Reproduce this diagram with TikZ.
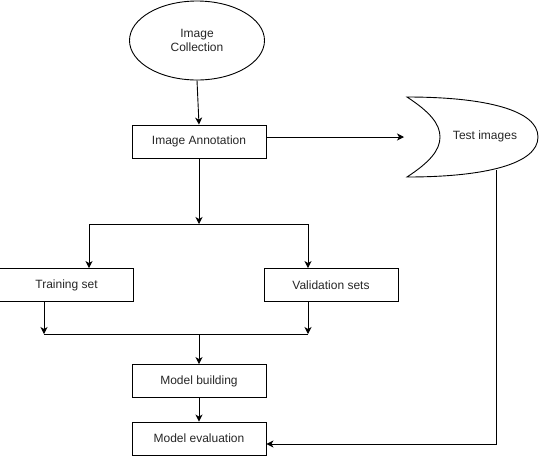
\documentclass[tikz,border=0pt]{standalone}
\usepackage{fontspec}
\setmainfont{Liberation Sans}
\usetikzlibrary{arrows.meta,shapes.geometric}
\begin{document}
\begin{tikzpicture}[x=1pt,y=-1pt,
  every node/.style={font=\fontsize{12}{14.5}\selectfont, text=black!85},
  proc/.style={draw, line width=0.9pt, minimum width=134pt, minimum height=33pt, inner sep=0pt},
  flow/.style={line width=0.9pt, -{Stealth[length=7pt,width=7pt,inset=2pt]}},
  plain/.style={line width=0.9pt}]
\useasboundingbox (0,0) rectangle (540,456);

% start ellipse
\node[ellipse, draw, line width=0.9pt, minimum width=135pt, minimum height=79pt, align=center, inner sep=0pt]
  (coll) at (197,40.5) {Image\\Collection};

% process boxes
\node[proc] (ann)   at (199,141.5) {Image Annotation};
\node[proc] (train) at (66.5,285)  {Training set};
\node[proc] (val)   at (331,285)   {Validation sets};
\node[proc] (build) at (199,381)   {Model building};
\node[proc] (eval)  at (199,438.5) {Model evaluation};

% test images storage shape
\draw[line width=0.9pt] (407,97) .. controls (485,97) and (538,110) .. (538,137)
  .. controls (538,164) and (485,177) .. (407,177)
  .. controls (430,162) and (440,150) .. (440,137)
  .. controls (440,124) and (430,112) .. (407,97) -- cycle;
\node (test) at (485,136) {Test images};
\coordinate (testin)  at (404,137);
\coordinate (testout) at (496,170);

% junction points
\coordinate (split)  at (199,224);
\coordinate (splitL) at (89,224);
\coordinate (splitR) at (308,224);
\coordinate (mergeL) at (44,334);
\coordinate (mergeR) at (308,334);
\coordinate (merge)  at (199,334);
\coordinate (back)   at (496,444);

% connectors
\draw[flow] (coll.south) -- (ann.north);
\draw[flow] (ann.east |- testin) -- (testin);
\draw[flow] (ann.south) -- (split);
\draw[plain] (splitL) -- (splitR);
\draw[flow] (splitL) -- (splitL |- train.north);
\draw[flow] (splitR) -- (splitR |- val.north);
\draw[flow] (mergeL |- train.south) -- (mergeL);
\draw[flow] (mergeR |- val.south) -- (mergeR);
\draw[plain] (mergeL) -- (mergeR);
\draw[flow] (merge) -- (build.north);
\draw[flow] (build.south) -- (eval.north);
\draw[flow] (testout) -- (back) -- (eval.east |- back);
\end{tikzpicture}
\end{document}
